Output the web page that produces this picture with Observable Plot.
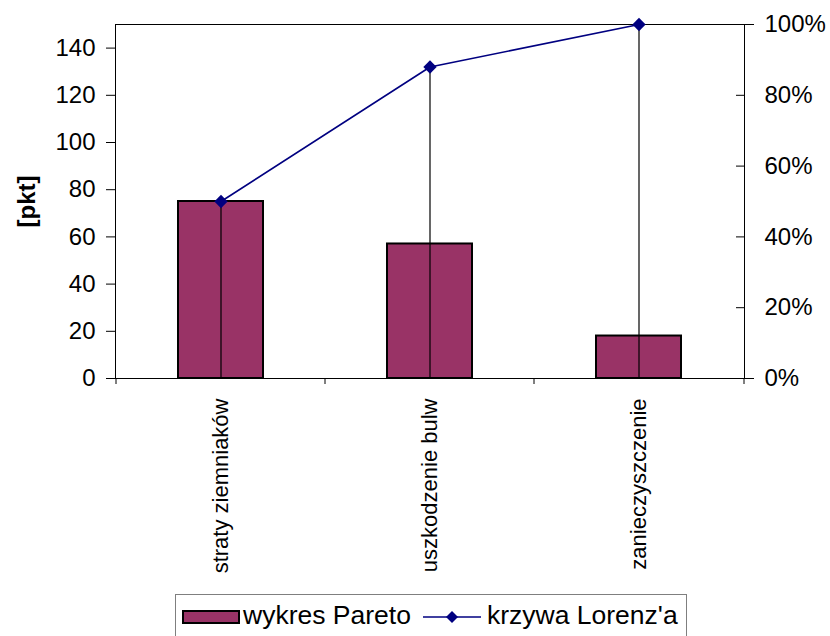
<!DOCTYPE html>
<html>
<head>
<meta charset="utf-8">
<script src="https://cdn.jsdelivr.net/npm/d3@7"></script>
<script src="https://cdn.jsdelivr.net/npm/@observablehq/plot@0.6"></script>
<style>
  body { margin: 0; background: #fff; font-family: "Liberation Sans", Arial, sans-serif; }
  #chart { position: relative; width: 830px; height: 636px; overflow: hidden; }
  .legend { position: absolute; left: 175px; top: 594px; width: 512px; height: 60px;
            border: 1px solid #7f7f7f; box-sizing: border-box; font-size: 26.5px; color: #000; }
  .legend > * { position: absolute; }
  .legend .swatch { left: 6px; top: 15px; width: 58px; height: 14px; background: #993366;
                    border: 2px solid #000; box-sizing: border-box; }
  .legend .label { top: 7px; line-height: 27px; white-space: nowrap; }
</style>
</head>
<body>
<div id="chart"></div>
<script>
// Pareto analysis of potato harvest defects
const categories = ["straty ziemniaków", "uszkodzenie bulw", "zanieczyszczenie"];
const points = [75, 57, 18];                 // [pkt]
const leftTicks = [0, 20, 40, 60, 80, 100, 120, 140];
const rightTicks = [0, 20, 40, 60, 80, 100]; // percent
const yMax = 150;

const seriesNames = ["wykres Pareto", "krzywa Lorenz'a"];
const barColor = "#993366";
const lineColor = "#000080";

// cumulative share (Lorenz curve) on the right-hand percent axis
const total = d3.sum(points);
let running = 0;
const rows = categories.map((cat, i) => {
  running += points[i];
  const share = running / total * 100;
  return { cat, value: points[i], share, shareY: share / 100 * yMax };
});
const pctToY = p => p / 100 * yMax;

const font = "'Liberation Sans', Arial, sans-serif";

const chart = Plot.plot({
  width: 830,
  height: 636,
  marginLeft: 115,
  marginRight: 86,
  marginTop: 24,
  marginBottom: 258,
  style: { fontFamily: font, fontSize: "24px", color: "#000", background: "#fff", overflow: "visible" },
  x: { type: "band", domain: categories, padding: 0, label: null },
  y: { domain: [0, yMax], label: null },
  marks: [
    Plot.frame({ stroke: "#000", strokeWidth: 1 }),
    Plot.barY(rows, { x: "cat", y: "value", fill: barColor, stroke: "#000", strokeWidth: 2,
                      insetLeft: 62, insetRight: 62 }),
    Plot.ruleX(rows, { x: "cat", y1: 0, y2: "shareY", stroke: "#000", strokeWidth: 1.2 }),
    Plot.line(rows, { x: "cat", y: "shareY", stroke: lineColor, strokeWidth: 1.6 }),
    Plot.dot(rows, { x: "cat", y: "shareY", symbol: "diamond2", r: 6, fill: lineColor, stroke: "none" }),

    // left value axis
    Plot.axisY(leftTicks, { anchor: "left", tickSize: 9, tickPadding: 11, fontSize: 24, label: null,
                 stroke: "#000" }),
    // right percent axis: inner ticks, outer ticks at the ends, labels
    Plot.axisY(rightTicks.map(pctToY), { anchor: "right", tickSize: 9, dx: -9, text: null, label: null,
                 stroke: "#000" }),
    Plot.axisY([0, 100].map(pctToY), { anchor: "right", tickSize: 9, text: null, label: null, stroke: "#000" }),
    Plot.axisY(rightTicks.map(pctToY), { anchor: "right", tickSize: 0, tickPadding: 20, fontSize: 24,
                 tickFormat: d => Math.round(d / yMax * 100) + "%", label: null }),

    // category separators on the bottom axis
    Plot.axisX(categories, { anchor: "bottom", tickSize: 6, text: null, dx: -105, label: null, stroke: "#000" }),
    Plot.axisX(categories.slice(-1), { anchor: "bottom", tickSize: 6, text: null, dx: 105, label: null,
                 stroke: "#000" }),
    // rotated category names
    Plot.axisX(categories, { anchor: "bottom", tickSize: 0, tickPadding: 20, tickRotate: -90,
                 fontSize: 22, label: null }),

    // value axis title
    Plot.text(["[pkt]"], { frameAnchor: "left", textAnchor: "middle", dx: -88, rotate: -90,
                           fontWeight: "bold", fontSize: 24 })
  ]
});

const root = document.getElementById("chart");
root.appendChild(chart);

// legend box below the plot
const legend = document.createElement("div");
legend.className = "legend";
legend.innerHTML = `
  <span class="swatch"></span>
  <span class="label" style="left:67px">${seriesNames[0]}</span>
  <svg style="left:247px;top:15px" width="58" height="14">
    <line x1="0" y1="7" x2="58" y2="7" stroke="${lineColor}" stroke-width="1.6"/>
    <path d="M29,1 L35,7 L29,13 L23,7 Z" fill="${lineColor}"/>
  </svg>
  <span class="label" style="left:311px">${seriesNames[1]}</span>`;
root.appendChild(legend);
</script>
</body>
</html>
